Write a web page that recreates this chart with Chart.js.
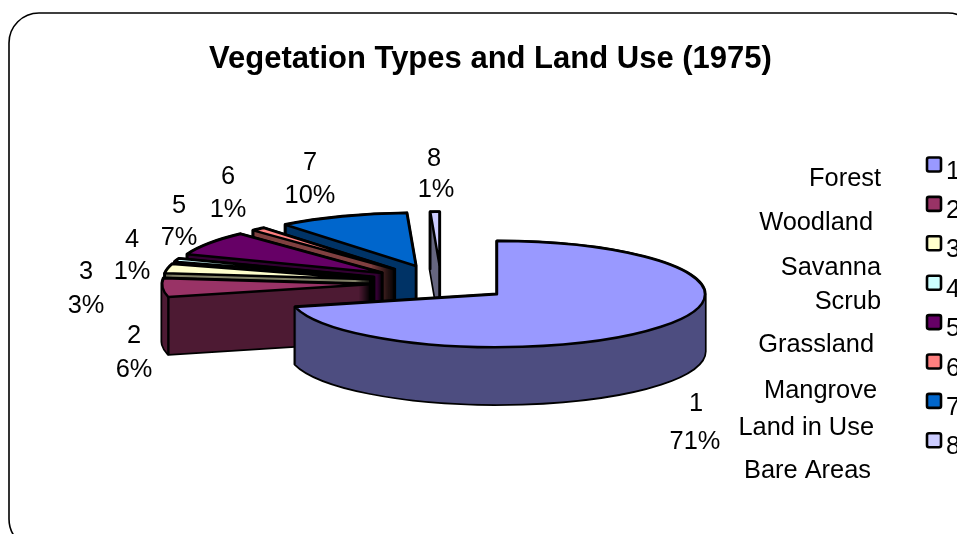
<!DOCTYPE html>
<html>
<head>
<meta charset="utf-8">
<style>
html,body{margin:0;padding:0;background:#fff;overflow:hidden}
#wrap{width:957px;height:534px;position:relative}
</style>
<script src="https://cdn.jsdelivr.net/npm/chart.js@4"></script>
</head>
<body>
<div id="wrap"><canvas id="c" width="957" height="534"></canvas></div>
<script>
const titleText = 'Vegetation Types and Land Use (1975)';
const sliceIds = ['1','2','3','4','5','6','7','8'];
const landTypes = ['Forest','Woodland','Savanna','Scrub','Grassland','Mangrove','Land in Use','Bare Areas'];
const shares = [71.1, 5.7, 2.9, 1.0, 7.4, 1.1, 10.1, 0.7];
const topColors = ['#9999FF','#993366','#FFFFCC','#CCFFFF','#660066','#FF8080','#0066CC','#CCCCFF'];
const sideColors = ['#4D4D80','#4D1A33','#808066','#668080','#330033','#804040','#003366','#666680'];

// layout constants (not data)
const FONT = '"Liberation Sans", Arial, sans-serif';
const PIE = {cx:441, cy:283, squash:0.255, depth:57, explode:71, radius:208};
const dataLabelPos = [[696,404,695,442],[134,336,134,370],[86,272,86,306],[132,240,132,272],
                      [179,206,179,238],[228,177,228,210],[310,163,310,196],[434,159,436,190]];
const namePos = [[881,179],[873,223],[881,268],[881,302],[874,345],[877,391],[874,428],[871,471]];
const legendX = 927, legendFirstY = 164.5, legendStep = 39.4;

function arcCopy(ctx, arc, dy, bg, border, bw){
  const mid = (arc.startAngle + arc.endAngle)/2;
  const proxy = Object.create(arc);
  proxy.options = Object.assign({}, arc.options, {backgroundColor:bg, borderColor:border, borderWidth:bw, borderJoinStyle:'round', offset:0});
  ctx.save();
  ctx.translate(PIE.cx + Math.cos(mid)*PIE.explode, PIE.cy + Math.sin(mid)*PIE.explode*PIE.squash + dy);
  ctx.scale(1, PIE.squash);
  ctx.translate(-arc.x, -arc.y);
  arc.draw.call(proxy, ctx);
  ctx.restore();
}
// the top face: outlines keep a uniform width although the sector is squashed
function drawTop(ctx, arc, bg){
  ctx.stroke = function(){
    const t = ctx.getTransform();
    ctx.setTransform(1,0,0,1,0,0);
    CanvasRenderingContext2D.prototype.stroke.call(ctx);
    ctx.setTransform(t);
  };
  arcCopy(ctx, arc, 0, bg, '#000', 2.5);
  delete ctx.stroke;
}
// the extruded wall: all copies go into ONE path, painted once
function drawWall(ctx, arc, color){
  ctx.beginPath();
  ctx.beginPath = function(){};
  ctx.fill = function(){};
  for(let d=PIE.depth;d>=0;d--) arcCopy(ctx, arc, d, color, color, 0);
  delete ctx.beginPath;
  delete ctx.fill;
  ctx.save();
  ctx.strokeStyle='#000'; ctx.lineWidth=3.4; ctx.lineJoin='round';
  ctx.stroke();
  ctx.fillStyle=color;
  ctx.fill();
  ctx.restore();
}
function vLine(ctx, x, y, h){
  ctx.beginPath(); ctx.moveTo(x,y); ctx.lineTo(x,y+h);
  ctx.strokeStyle='#000'; ctx.lineWidth=2.4; ctx.lineCap='round'; ctx.stroke();
}
const pie3d = {
  id:'pie3d',
  afterLayout(chart){
    chart.titleBlock.left = 24;
    chart.legend.left = legendX - chart.options.plugins.legend.labels.padding;
    chart.legend.top = legendFirstY - 7 - chart.options.plugins.legend.labels.padding;
    chart.legend.right = 957; chart.legend.bottom = 534;
  },
  beforeDraw(chart){
    const ctx = chart.ctx;
    ctx.save();
    ctx.fillStyle='#fff'; ctx.fillRect(0,0,957,534);
    ctx.beginPath(); ctx.roundRect(9,13,969,536,30);
    ctx.strokeStyle='#000'; ctx.lineWidth=1.6; ctx.stroke();
    ctx.restore();
  },
  beforeDatasetsDraw(chart){
    const ctx = chart.ctx, arcs = chart.getDatasetMeta(0).data;
    for(let i=arcs.length-1;i>=0;i--){
      const arc = arcs[i];
      drawWall(ctx, arc, sideColors[i]);
      if(i>0){
        const mid=(arc.startAngle+arc.endAngle)/2;
        const ax=PIE.cx+Math.cos(mid)*PIE.explode, ay=PIE.cy+Math.sin(mid)*PIE.explode*PIE.squash;
        vLine(ctx,ax,ay,PIE.depth);
        vLine(ctx,ax+Math.cos(arc.startAngle)*PIE.radius,ay+Math.sin(arc.startAngle)*PIE.radius*PIE.squash,PIE.depth);
      }
      drawTop(ctx, arc, topColors[i]);
    }
    return false;
  },
  afterDraw(chart){
    const ctx = chart.ctx;
    ctx.save();
    ctx.fillStyle='#000'; ctx.font='25.4px '+FONT; ctx.textBaseline='middle'; ctx.textAlign='center';
    sliceIds.forEach((id,i)=>{
      const p=dataLabelPos[i];
      ctx.fillText(id,p[0],p[1]);
      ctx.fillText(Math.round(shares[i])+'%',p[2],p[3]);
    });
    ctx.textAlign='right';
    landTypes.forEach((t,i)=>ctx.fillText(t,namePos[i][0],namePos[i][1]));
    ctx.textAlign='left';
    sliceIds.forEach((id,i)=>ctx.fillText(id,946,legendFirstY+7+i*legendStep));
    ctx.restore();
  }
};
new Chart(document.getElementById('c'),{
  type:'pie',
  plugins:[pie3d],
  data:{labels:sliceIds,datasets:[{data:shares,backgroundColor:topColors,borderColor:'#000',borderWidth:2,radius:PIE.radius}]},
  options:{
    responsive:false,animation:false,events:[],
    rotation:0,
    plugins:{
      tooltip:{enabled:false},
      title:{display:true,text:titleText,color:'#000',font:{family:FONT,size:31,weight:'bold'},padding:{top:41,bottom:0}},
      legend:{display:true,position:'right',align:'start',
        labels:{boxWidth:14,boxHeight:14,padding:25.4,font:{size:14,family:FONT},useBorderRadius:true,borderRadius:2,
          generateLabels(chart){
            return Chart.overrides.pie.plugins.legend.labels.generateLabels(chart).map(l=>Object.assign(l,{text:'',lineWidth:2.6,strokeStyle:'#000'}));
          }}}
    }
  }
});
</script>
</body>
</html>
